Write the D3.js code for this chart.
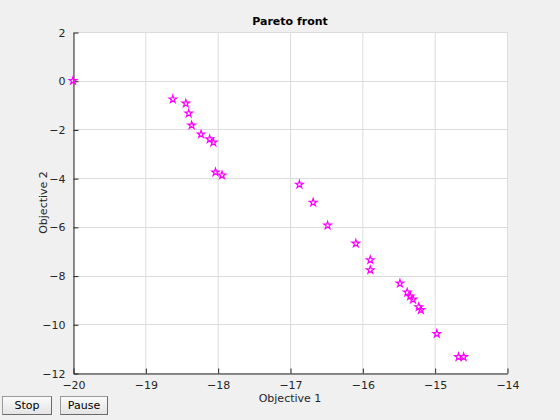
<!DOCTYPE html>
<html><head><meta charset="utf-8">
<script src="https://cdn.jsdelivr.net/npm/d3@7"></script>
<style>
body{margin:0;background:#f0f0f0;font-family:"DejaVu Sans",sans-serif;}
.btn{position:absolute;top:396px;height:19px;background:linear-gradient(#fafafa,#e4e4e4);border:1px solid #9a9a9a;border-right-color:#6a6a6a;border-bottom-color:#6a6a6a;font:11px "DejaVu Sans",sans-serif;color:#000;display:flex;align-items:center;justify-content:center;box-sizing:border-box;}
</style></head>
<body>
<svg id="c" width="560" height="420" style="position:absolute;left:0;top:0"></svg>
<div class="btn" style="left:2px;width:50px;">Stop</div>
<div class="btn" style="left:60px;width:48px;">Pause</div>
<script>
const obj1 = [-20.0,-18.62,-18.44,-18.40,-18.36,-18.23,-18.11,-18.06,-18.03,-17.94,-16.87,-16.68,-16.48,-16.09,-15.89,-15.89,-15.48,-15.38,-15.34,-15.30,-15.22,-15.19,-14.97,-14.67,-14.60];
const obj2 = [0.0,-0.76,-0.93,-1.34,-1.83,-2.20,-2.40,-2.53,-3.76,-3.88,-4.26,-5.00,-5.94,-6.68,-7.36,-7.77,-8.32,-8.69,-8.85,-8.98,-9.29,-9.41,-10.39,-11.34,-11.34];
const xTicks = [-20,-19,-18,-17,-16,-15,-14];
const yTicks = [2,0,-2,-4,-6,-8,-10,-12];
const title = "Pareto front", xLabel = "Objective 1", yLabel = "Objective 2";

const svg = d3.select("#c");
const L=73,R=507,T=32,B=373;
const x = d3.scaleLinear().domain([-20,-14]).range([L,R]);
const y = d3.scaleLinear().domain([-12,2]).range([B,T]);

svg.append("rect").attr("x",L).attr("y",T).attr("width",R-L).attr("height",B-T).attr("fill","#fff");
const g = svg.append("g");
g.selectAll(".gx").data(xTicks).join("line").attr("x1",d=>x(d)+0.5).attr("x2",d=>x(d)+0.5).attr("y1",T).attr("y2",B).attr("stroke","#dcdcdc");
g.selectAll(".gy").data(yTicks).join("line").attr("y1",d=>Math.round(y(d))+0.5).attr("y2",d=>Math.round(y(d))+0.5).attr("x1",L).attr("x2",R).attr("stroke","#dcdcdc");

const xa = svg.append("g").attr("transform",`translate(0.5,${B+0.5})`).call(d3.axisBottom(x).tickValues(xTicks).tickSizeInner(-5).tickSizeOuter(0).tickPadding(8).tickFormat(d3.format("d")));
const ya = svg.append("g").attr("transform",`translate(${L+0.5},0.5)`).call(d3.axisLeft(y).tickValues(yTicks).tickSizeInner(-5).tickSizeOuter(0).tickPadding(8).tickFormat(d3.format("d")));
[xa,ya].forEach(a=>{a.selectAll("text").attr("fill","#262626").style("font-size","11px").style("font-family","DejaVu Sans");a.selectAll("line,path").attr("stroke","#262626");});
ya.selectAll(".tick line").attr("x2",5);
xa.selectAll(".tick line").attr("y2",-5);

svg.append("text").attr("x",(L+R)/2).attr("y",25).attr("text-anchor","middle").style("font-weight","bold").style("font-size","11px").attr("fill","#000").text(title);
svg.append("text").attr("x",(L+R)/2).attr("y",402).attr("text-anchor","middle").style("font-size","11px").attr("fill","#262626").text(xLabel);
svg.append("text").attr("transform",`translate(47,${(T+B)/2}) rotate(-90)`).attr("text-anchor","middle").style("font-size","11px").attr("fill","#262626").text(yLabel);

const star = d3.symbol().type(d3.symbolStar).size(18);
svg.append("g").selectAll("path").data(obj1.map((v,i)=>[v,obj2[i]])).join("path")
 .attr("d",star).attr("transform",d=>`translate(${x(d[0])},${y(d[1])})`)
 .attr("fill","none").attr("stroke","#ff00ff").attr("stroke-width",1.2);
</script>
</body></html>
